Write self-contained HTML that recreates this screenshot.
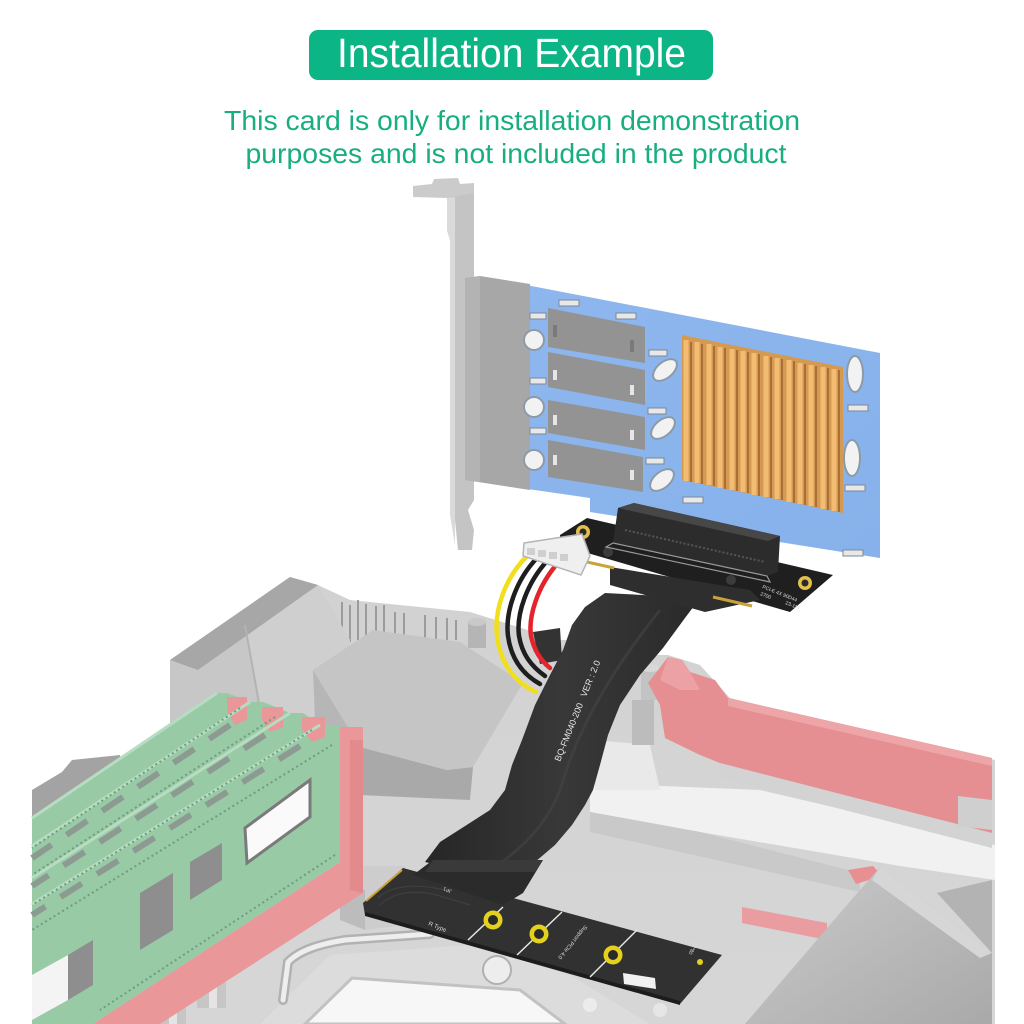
<!DOCTYPE html>
<html><head><meta charset="utf-8"><style>
html,body{margin:0;padding:0;background:#fff;}
svg{display:block;}
</style></head><body>
<svg width="1024" height="1024" viewBox="0 0 1024 1024" xmlns="http://www.w3.org/2000/svg" font-family="'Liberation Sans', sans-serif">
<defs>
<linearGradient id="mb" x1="0" y1="0" x2="0" y2="1">
<stop offset="0" stop-color="#d2d2d2"/><stop offset="1" stop-color="#d6d6d6"/></linearGradient>
<linearGradient id="cab" x1="0" y1="0" x2="1" y2="0">
<stop offset="0" stop-color="#262626"/><stop offset="0.5" stop-color="#383838"/><stop offset="1" stop-color="#2a2a2a"/></linearGradient>
<linearGradient id="blk" x1="0" y1="0" x2="1" y2="1">
<stop offset="0" stop-color="#cbcbcb"/><stop offset="1" stop-color="#a9a9a9"/></linearGradient>
<linearGradient id="pcb" x1="0" y1="0" x2="1" y2="1">
<stop offset="0" stop-color="#8fb7ef"/><stop offset="1" stop-color="#86b1ea"/></linearGradient>
</defs>

<!-- header -->
<rect x="309" y="30" width="404" height="50" rx="9" fill="#0bb585"/>
<text x="511.5" y="67" font-size="41" fill="#fff" text-anchor="middle" textLength="349" lengthAdjust="spacingAndGlyphs">Installation Example</text>
<text x="512" y="130" font-size="28" fill="#18ae7f" text-anchor="middle" textLength="576" lengthAdjust="spacingAndGlyphs">This card is only for installation demonstration</text>
<text x="516" y="163" font-size="28" fill="#18ae7f" text-anchor="middle" textLength="541" lengthAdjust="spacingAndGlyphs">purposes and is not included in the product</text>

<!-- motherboard base -->
<path d="M32,800 L32,1024 L995,1024 L995,760 L730,698 L700,665 L668,655 L640,655 L600,640 L560,640 L470,612 L350,600 L318,585 L290,577 L170,660 L170,760 Z" fill="url(#mb)"/>
<!-- light band right -->
<polygon points="590,783 760,790 995,845 995,880 900,866 700,832 590,812" fill="#f1f1f1"/>
<polygon points="590,812 700,832 860,873 860,892 590,832" fill="#c9c9c9"/>
<polygon points="595,740 650,745 660,790 595,790" fill="#e9e9e9"/>

<!-- pins -->
<g stroke="#9c9c9c" stroke-width="2">
<line x1="342" y1="602" x2="342" y2="640"/><line x1="350" y1="605" x2="350" y2="642"/><line x1="358" y1="600" x2="358" y2="640"/><line x1="366" y1="604" x2="366" y2="642"/><line x1="376" y1="606" x2="376" y2="640"/><line x1="384" y1="605" x2="384" y2="640"/><line x1="395" y1="612" x2="395" y2="640"/><line x1="404" y1="613" x2="404" y2="640"/><line x1="425" y1="615" x2="425" y2="640"/><line x1="436" y1="617" x2="436" y2="640"/><line x1="447" y1="618" x2="447" y2="640"/><line x1="456" y1="620" x2="456" y2="640"/>
</g>
<rect x="468" y="622" width="18" height="26" fill="#b5b5b5"/><ellipse cx="477" cy="622" rx="9" ry="4" fill="#c9c9c9"/>

<!-- left VRM block -->
<polygon points="170,660 198,670 318,585 350,640 350,730 170,800" fill="#c7c7c7"/>
<polygon points="245,625 318,585 350,640 350,720 262,720" fill="#cfcfcf"/>
<polygon points="170,660 290,577 318,585 198,670" fill="#a7a7a7"/>
<line x1="245" y1="625" x2="262" y2="720" stroke="#b3b3b3" stroke-width="2"/>

<!-- center heatsink -->
<polygon points="313,670 360,747 360,800 330,800 315,720" fill="#b6b6b6"/>
<polygon points="360,747 447,770 473,767 470,800 360,795" fill="#a9a9a9"/>
<polygon points="313,670 373,630 460,642 523,683 473,767 447,770 360,747" fill="#c5c5c5"/>

<!-- small capacitor near red slot -->
<rect x="641" y="668" width="19" height="32" fill="#c3c3c3"/><ellipse cx="650.5" cy="668" rx="9.5" ry="4" fill="#d8d8d8"/>
<rect x="632" y="700" width="22" height="45" fill="#bcbcbc"/>

<!-- red PCIe slot -->
<polygon points="648,683 668,657 682,660 690,672 715,680 728,698 992,758 992,833 960,826 720,763 700,755 665,738 660,705" fill="#e58f92"/>
<polygon points="728,698 992,758 992,766 728,706" fill="#eda5a7"/>
<polygon points="668,657 682,660 690,672 700,690 680,690 660,680" fill="#eca2a4"/>
<polygon points="720,763 992,833 992,848 720,778" fill="#d3d3d3"/>
<polygon points="958,796 992,800 992,830 958,826" fill="#cfcfcf"/>

<!-- bottom-right block -->
<polygon points="742,907 827,923 827,940 742,923" fill="#ea9da0"/>
<polygon points="848,870 873,866 882,876 856,884" fill="#e88f92"/>
<polygon points="937,893 992,880 992,953" fill="#b3b3b3"/>
<polygon points="880,867 992,953 992,1024 745,1024 840,913" fill="url(#blk)"/>
<polygon points="880,867 992,953 980,958 872,880" fill="#d6d6d6"/>

<!-- M.2 slot -->
<polygon points="340,880 352,866 405,866 405,925 365,930 340,920" fill="#cdcdcd"/>
<polygon points="340,880 365,890 365,930 340,920" fill="#bcbcbc"/>

<!-- socket -->
<polygon points="260,1024 330,955 470,945 570,975 650,1024" fill="#dcdcdc"/>
<polygon points="305,1024 352,978 520,990 565,1024" fill="#f7f7f7" stroke="#c2c2c2" stroke-width="3"/>
<path d="M283,1000 L288,962 C300,950 320,944 345,940 L430,934" fill="none" stroke="#b2b2b2" stroke-width="10" stroke-linecap="round"/>
<path d="M283,1000 L288,962 C300,950 320,944 345,940 L430,934" fill="none" stroke="#eeeeee" stroke-width="5" stroke-linecap="round"/>
<circle cx="497" cy="970" r="14" fill="#ededed" stroke="#b0b0b0" stroke-width="2"/>
<circle cx="590" cy="1005" r="7" fill="#ececec"/><circle cx="660" cy="1010" r="7" fill="#e6e6e6"/>

<!-- capacitors -->
<rect x="197" y="966" width="29" height="42" fill="#c6c6c6"/><rect x="209" y="966" width="8" height="42" fill="#e4e4e4"/><ellipse cx="211.5" cy="966" rx="14.5" ry="7" fill="#dadada" stroke="#bbb"/>
<rect x="158" y="996" width="28" height="30" fill="#c6c6c6"/><rect x="169" y="996" width="8" height="30" fill="#e4e4e4"/><ellipse cx="172" cy="996" rx="14" ry="7" fill="#dadada" stroke="#bbb"/>

<!-- RAM -->
<polygon points="32,790 62,772 72,760 120,755 124,790 32,830" fill="#a3a3a3"/>
<polygon points="32,818 217,693 227,693 250,702 263,702 290,713 303,713 320,725 340,725 340,862 93,1024 32,1024" fill="#98caa6"/>
<polygon points="340,727 363,727 363,893 160,1024 93,1024 340,862" fill="#ea979a"/>
<polygon points="350,740 363,740 363,893 350,890" fill="#e38a8d"/>
<polygon points="227,697 247,697 247,720 235,725 227,712" fill="#ea979a"/>
<polygon points="262,707 283,707 283,727 270,732 262,720" fill="#ea979a"/>
<polygon points="302,717 325,717 325,737 312,742 302,730" fill="#ea979a"/>
<g fill="none">
<line x1="217" y1="693" x2="32" y2="818" stroke="#b7dcc2" stroke-width="3"/>
<line x1="250" y1="702" x2="32" y2="846" stroke="#b7dcc2" stroke-width="3"/>
<line x1="290" y1="713" x2="32" y2="878" stroke="#b7dcc2" stroke-width="3"/>
<line x1="320" y1="725" x2="32" y2="904" stroke="#b7dcc2" stroke-width="3"/>
<line x1="240" y1="708" x2="32" y2="848" stroke="#6f9c7d" stroke-width="2" stroke-dasharray="2,3"/>
<line x1="275" y1="717" x2="32" y2="875" stroke="#6f9c7d" stroke-width="2" stroke-dasharray="2,3"/>
<line x1="312" y1="730" x2="32" y2="905" stroke="#6f9c7d" stroke-width="2" stroke-dasharray="2,3"/>
<line x1="332" y1="745" x2="32" y2="930" stroke="#6f9c7d" stroke-width="2" stroke-dasharray="2,3"/>
<line x1="230" y1="725" x2="32" y2="858" stroke="#8d9a92" stroke-width="6" stroke-dasharray="25,18"/>
<line x1="265" y1="735" x2="32" y2="886" stroke="#8d9a92" stroke-width="6" stroke-dasharray="25,18"/>
<line x1="300" y1="746" x2="32" y2="915" stroke="#8d9a92" stroke-width="6" stroke-dasharray="25,18"/>
<line x1="335" y1="855" x2="100" y2="1010" stroke="#6f9c7d" stroke-width="2" stroke-dasharray="2,3"/>
</g>
<polygon points="190,862 222,843 222,880 190,900" fill="#8e8e8e"/>
<polygon points="140,893 173,873 173,930 140,950" fill="#8e8e8e"/>
<polygon points="68,955 93,940 93,985 68,1000" fill="#8e8e8e"/>
<polygon points="32,975 68,955 68,1000 32,1020" fill="#f4f4f4"/>
<polygon points="245,828 310,780 310,817 247,863" fill="#fafafa" stroke="#7a7a7a" stroke-width="3"/>

<!-- expansion card bracket -->
<polygon points="413,186 432,184 434,179 458,178 460,184 474,183 474,196 447,198 413,197" fill="#cbcbcb"/>
<polygon points="447,198 474,193 474,500 468,510 474,530 472,550 458,550 455,520 450,515 450,240 447,230" fill="#c4c4c4"/>
<polygon points="447,198 455,197 455,545 450,515 450,240 447,230" fill="#dadada"/>

<!-- blue pcb -->
<polygon points="500,280 880,353 880,558 590,512 590,498 500,485" fill="url(#pcb)"/>
<!-- shield -->
<polygon points="465,278 480,276 530,284 530,490 465,480" fill="#a7a7a7"/>
<polygon points="465,278 480,276 480,482 465,480" fill="#b3b3b3"/>

<!-- m.2 slots on card -->
<g fill="#939393">
<polygon points="548,308 645,327 645,363 548,347"/>
<polygon points="548,352 645,370 645,405 548,387"/>
<polygon points="548,400 645,417 645,450 548,433"/>
<polygon points="548,440 643,457 643,492 548,477"/>
</g>
<g fill="#7a7a7a">
<rect x="553" y="325" width="4" height="12"/><rect x="630" y="340" width="4" height="12"/>
</g>
<g fill="#e6e6e6">
<rect x="553" y="370" width="4" height="10"/><rect x="630" y="385" width="4" height="10"/>
<rect x="553" y="415" width="4" height="10"/><rect x="630" y="430" width="4" height="10"/>
<rect x="553" y="455" width="4" height="10"/><rect x="630" y="470" width="4" height="10"/>
</g>
<g fill="#f2f2f2" stroke="#8c9aa8" stroke-width="2">
<circle cx="534" cy="340" r="10"/><circle cx="534" cy="407" r="10"/><circle cx="534" cy="460" r="10"/>
<ellipse cx="665" cy="370" rx="8" ry="14" transform="rotate(50 665 370)"/>
<ellipse cx="663" cy="428" rx="8" ry="14" transform="rotate(50 663 428)"/>
<ellipse cx="662" cy="480" rx="8" ry="14" transform="rotate(50 662 480)"/>
<ellipse cx="855" cy="374" rx="8" ry="18"/>
<ellipse cx="852" cy="458" rx="8" ry="18"/>
</g>
<g fill="#e8e8e8" stroke="#7a8899" stroke-width="1">
<rect x="559" y="300" width="20" height="6"/><rect x="616" y="313" width="20" height="6"/><rect x="530" y="313" width="16" height="6"/>
<rect x="649" y="350" width="18" height="6"/><rect x="530" y="378" width="16" height="6"/><rect x="530" y="428" width="16" height="6"/>
<rect x="648" y="408" width="18" height="6"/><rect x="646" y="458" width="18" height="6"/><rect x="848" y="405" width="20" height="6"/>
<rect x="845" y="485" width="20" height="6"/><rect x="843" y="550" width="20" height="6"/><rect x="683" y="497" width="20" height="6"/>
</g>

<!-- heatsink -->
<polygon points="682,335 843,367 843,513 682,480" fill="#d49a52"/>
<g stroke="#f2bd72" stroke-width="5">
<line x1="686" y1="340" x2="686" y2="481"/><line x1="697" y1="342" x2="697" y2="483"/><line x1="709" y1="344" x2="709" y2="485"/><line x1="720" y1="347" x2="720" y2="488"/><line x1="732" y1="349" x2="732" y2="490"/><line x1="743" y1="351" x2="743" y2="492"/><line x1="754" y1="353" x2="754" y2="495"/><line x1="766" y1="356" x2="766" y2="497"/><line x1="777" y1="358" x2="777" y2="499"/><line x1="789" y1="360" x2="789" y2="502"/><line x1="800" y1="363" x2="800" y2="504"/><line x1="811" y1="365" x2="811" y2="506"/><line x1="823" y1="367" x2="823" y2="509"/><line x1="834" y1="369" x2="834" y2="511"/>
</g>
<g stroke="#a96f36" stroke-width="2">
<line x1="691" y1="342" x2="691" y2="482"/><line x1="702" y1="344" x2="702" y2="484"/><line x1="714" y1="346" x2="714" y2="486"/><line x1="725" y1="348" x2="725" y2="489"/><line x1="737" y1="350" x2="737" y2="491"/><line x1="748" y1="352" x2="748" y2="493"/><line x1="759" y1="354" x2="759" y2="496"/><line x1="771" y1="357" x2="771" y2="498"/><line x1="782" y1="359" x2="782" y2="500"/><line x1="794" y1="361" x2="794" y2="503"/><line x1="805" y1="364" x2="805" y2="505"/><line x1="816" y1="366" x2="816" y2="507"/><line x1="828" y1="368" x2="828" y2="510"/><line x1="839" y1="370" x2="839" y2="512"/>
</g>

<!-- wire end connector -->
<polygon points="533,632 560,628 562,660 540,664" fill="#333"/>
<!-- wires -->
<g fill="none" stroke-width="4.5" stroke-linecap="round">
<path d="M527,556 C505,578 494,610 497,636 C500,662 514,682 536,692" stroke="#f1df1c"/>
<path d="M537,558 C516,580 505,612 508,636 C511,658 522,674 540,684" stroke="#1e1e1e"/>
<path d="M547,561 C527,583 516,614 519,636 C522,654 531,666 545,676" stroke="#1e1e1e"/>
<path d="M557,564 C538,586 528,616 531,636 C534,650 540,660 550,668" stroke="#e5232a"/>
</g>

<!-- ribbon cable -->
<polygon points="605,593 585,607 572,625 563,650 550,675 535,705 522,740 512,765 505,790 490,810 462,828 440,842 425,862 520,884 535,862 555,845 572,825 585,805 593,790 600,765 608,735 620,705 640,675 663,648 685,618 700,598" fill="url(#cab)"/>
<path d="M660,610 C620,660 580,720 560,790 C545,830 510,860 480,875" fill="none" stroke="#444" stroke-width="3" opacity="0.6"/>
<text transform="translate(560,762) rotate(-68)" font-size="9" fill="#e8e8e8">BQ-FM040-200&#160;&#160;&#160;VER : 2.0</text>

<!-- riser pcb -->
<polygon points="560,535 587,518 833,575 790,612 560,545" fill="#1f1f1f"/>
<polygon points="610,567 750,590 760,600 705,612 610,585" fill="#2e2e2e"/>
<line x1="587" y1="562" x2="614" y2="568" stroke="#c9a23a" stroke-width="3"/>
<line x1="713" y1="597" x2="752" y2="606" stroke="#c9a23a" stroke-width="3"/>
<circle cx="583" cy="532" r="7" fill="#e2c04a"/><circle cx="583" cy="532" r="3.5" fill="#2a2a2a"/>
<circle cx="805" cy="583" r="7" fill="#e2c04a"/><circle cx="805" cy="583" r="3.5" fill="#2a2a2a"/>
<circle cx="608" cy="552" r="5" fill="#3c3c3c"/><circle cx="731" cy="580" r="5" fill="#3c3c3c"/>
<text transform="translate(762,588) rotate(22)" font-size="5" fill="#ddd">PCI-E 4X 90D44</text>
<text transform="translate(760,595) rotate(22)" font-size="5" fill="#ddd">2700</text>
<text transform="translate(785,604) rotate(22)" font-size="5" fill="#ddd">23-114</text>
<!-- pcie slot -->
<polygon points="613,543 618,508 634,503 780,536 778,572 767,576" fill="#2c2c2c"/>
<polygon points="618,508 634,503 780,536 768,541" fill="#474747"/>
<polygon points="613,543 767,576 770,582 606,547" fill="none" stroke="#9a9a9a" stroke-width="1.2"/>
<line x1="625" y1="530" x2="765" y2="562" stroke="#555" stroke-width="2" stroke-dasharray="2,2"/>

<!-- molex -->
<polygon points="524,543 582,534 590,556 581,575 523,556" fill="#efefef" stroke="#b5b5b5" stroke-width="1.5"/>
<g fill="#cfcfcf"><rect x="527" y="548" width="8" height="7"/><rect x="538" y="550" width="8" height="7"/><rect x="549" y="552" width="8" height="7"/><rect x="560" y="554" width="8" height="7"/></g>

<!-- cable end block at M.2 -->
<!-- M.2 board -->
<polygon points="363,903 403,868 722,955 680,1004 365,915" fill="#313131"/>
<polygon points="365,912 680,1001 680,1005 365,916" fill="#1c1c1c"/>
<line x1="366" y1="901" x2="402" y2="870" stroke="#c9a23a" stroke-width="2"/>
<g fill="none" stroke="#3f3f3f" stroke-width="1.2">
<path d="M380,905 C395,890 420,890 440,896 L470,905"/>
<path d="M378,898 C392,884 420,884 445,890"/>
</g>
<polygon points="413,875 433,860 543,860 523,893 503,905" fill="#2b2b2b"/>
<polygon points="433,860 543,860 535,872 425,872" fill="#3a3a3a"/>
<g stroke="#e8e8e8" stroke-width="1.5">
<line x1="503" y1="907" x2="468" y2="940"/><line x1="562" y1="912" x2="517" y2="955"/><line x1="637" y1="930" x2="590" y2="977"/>
</g>
<g>
<circle cx="493" cy="920" r="9.5" fill="#e4d11e"/><circle cx="493" cy="920" r="5" fill="#2a2a2a"/>
<circle cx="539" cy="934" r="9.5" fill="#e4d11e"/><circle cx="539" cy="934" r="5" fill="#2a2a2a"/>
<circle cx="613" cy="955" r="9.5" fill="#e4d11e"/><circle cx="613" cy="955" r="5" fill="#2a2a2a"/>
<circle cx="700" cy="962" r="3" fill="#e4d11e"/>
</g>
<polygon points="623,973 655,978 656,989 624,984" fill="#f1f1f1"/>
<text transform="translate(428,925) rotate(22)" font-size="6" fill="#ddd">R Type</text>
<text transform="translate(452,890) rotate(200)" font-size="5" fill="#ddd">JP1</text>
<text transform="translate(585,925) rotate(130)" font-size="5.5" fill="#ddd">Support PCIe 4.0</text>
<text transform="translate(695,942) rotate(120)" font-size="5" fill="#ddd">22*80</text>

</svg>
</body></html>
